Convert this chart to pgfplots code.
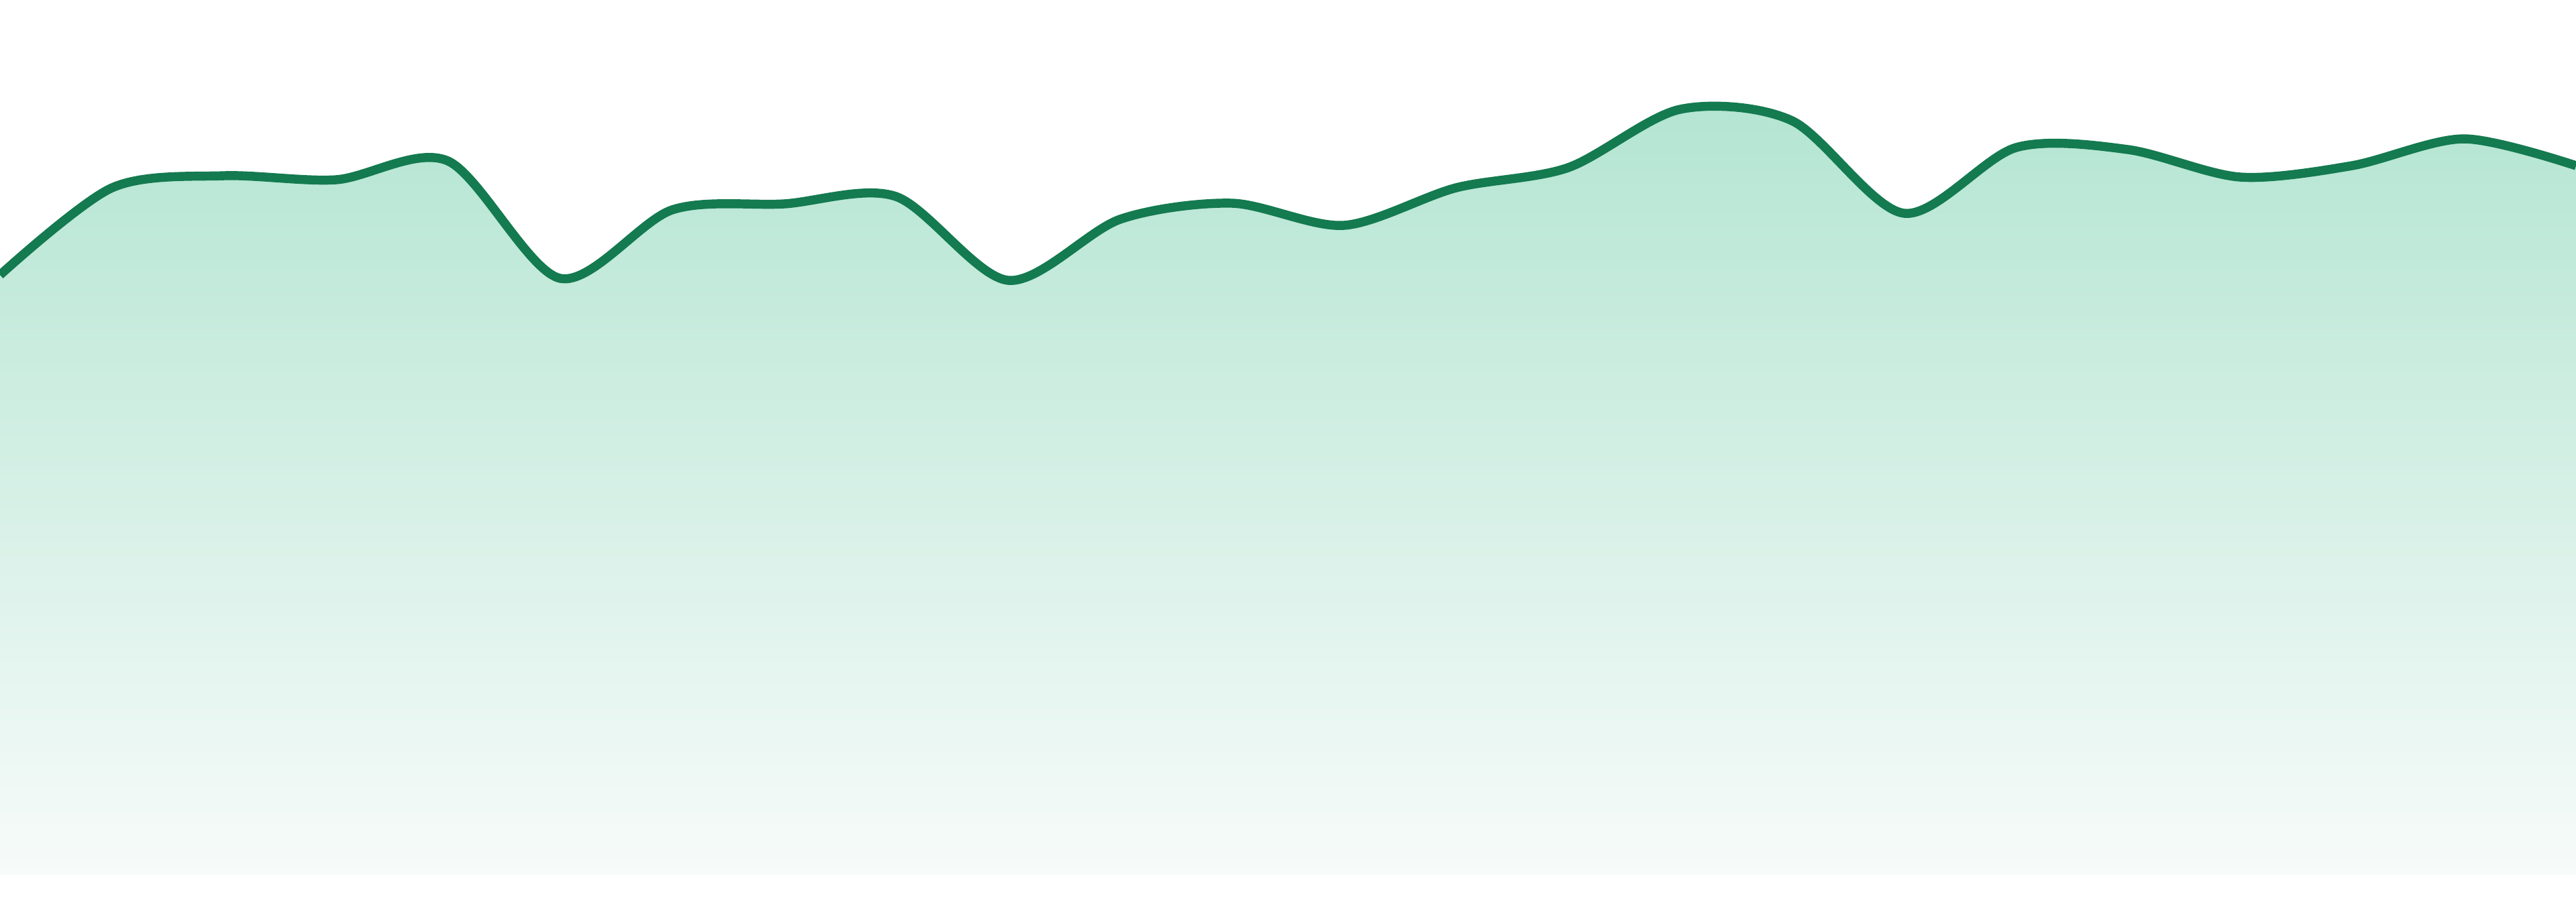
\documentclass[border=0pt]{standalone}
\usepackage{pgfplots}
\pgfplotsset{compat=1.18}
\definecolor{linegreen}{RGB}{20,122,80}
\definecolor{filltop}{RGB}{180,229,210}
\definecolor{fillbot}{RGB}{247,251,250}
\pgfplotstableread{
x y
0 894
1 1024
2 1042
3 1036
4 1064
5 889
6 991
7 1000
8 1011
9 886
10 977
11 1001
12 968
13 1024
14 1054
15 1141
16 1124
17 986
18 1084
19 1081
20 1040
21 1057
22 1097
23 1057
}\datatable
\begin{document}
\begin{tikzpicture}
\begin{axis}[
  width=400pt, height=140pt, scale only axis,
  hide axis,
  xmin=0, xmax=23, ymin=-40, ymax=1304,
  clip=true,
]
\addplot[draw=none, smooth, tension=0.5, shading=axis, top color=filltop, bottom color=fillbot] table {\datatable} \closedcycle;
\addplot[linegreen, line width=1.4pt, smooth, tension=0.5] table {\datatable};
\end{axis}
\path[use as bounding box] (current axis.south west) rectangle (current axis.north east);
\end{tikzpicture}
\end{document}
